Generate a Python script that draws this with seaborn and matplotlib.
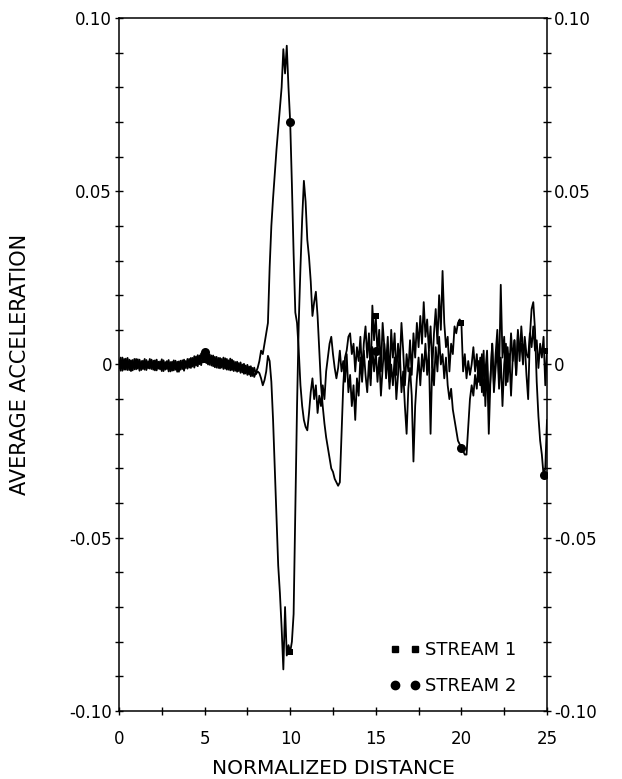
import numpy as np
import seaborn as sns
import matplotlib
matplotlib.use("Agg")
import matplotlib.pyplot as plt
from matplotlib.lines import Line2D
from matplotlib.ticker import MultipleLocator

# average acceleration, in thousandths, sampled every 0.1 of normalized distance
stream1_milli = [
    0, 2.0, -1.8, 1.6, -1.5, 1.9, -1.6, 1.2, -1.7, 1.6,
    -1.4, 1.5, -1.8, 1.0, -1.3, 1.6, -1.6, 0.9, -1.2, 1.4,
    -1.5, 1.2, -1.7, 0.8, -1.4, 1.5, -1.9, 0.7, -1.3, 1.3,
    -2.0, 0.8, -1.7, 1.1, -2.1, 0.9, -1.5, 1.2, -1.8, 1.0,
    -1.2, 1.6, -1.0, 1.9, -0.9, 2.3, -0.5, 2.6, -0.2, 3.0,
    1.2, 3.3, 0.0, 2.9, -0.3, 2.6, -0.8, 2.2, -1.0, 1.9,
    -0.9, 2.0, -1.2, 1.6, -1.5, 1.7, -1.6, 1.0, -1.8, 0.8,
    -1.9, 0.6, -2.3, 0.2, -2.6, -0.1, -2.9, -0.5, -3.3, -0.9,
    -2.8, -2.0, -2.5, -4.0, -6.0, -4.5, -2.0, 2.5, 1.0, -5.0,
    -16, -30, -44, -58, -66, -76, -88, -70, -84, -81,
    -83, -80, -72, -42, -12, 12, 28, 42, 53, 47,
    36, 31, 24, 14, 18, 21, 14, 4, -6, -12,
    -17, -21, -24, -27, -30, -31, -33, -34, -35, -34,
    -20, -6, 2, 4, 8, 9, 3, 6, -2, 5,
    1, 8, -3, 6, 11, 2, 9, -4, 17, 7,
    14, 3, 10, -2, 12, 5, 0, 8, -5, 10,
    2, 9, -3, 6, 0, 12, 4, -6, 3, -2,
    7, -3, 9, 2, 12, 5, 14, 6, 18, 8,
    13, 4, 11, -1, 9, 16, 6, 20, 10, 27,
    12, 5, 8, -2, 6, 3, 11, 9, 12, 13,
    12, -2, 3, -4, 1, -3, 0, 5, -2, 3,
    -5, 2, -8, 4, -12, 1, -20, -4, 6, -6,
    3, 10, -4, 23, 2, 8, -6, 5, -2, 9,
    1, 7, -3, 10, 4, 6, 0, 8, 3, 2,
    9, 5, 11, 4, 7, -1, 6, 2, 8, -6,
    4,
]

stream2_milli = [
    0, -1.8, 2.0, -1.5, 1.7, -1.6, 1.4, -1.9, 1.3, -1.4,
    1.6, -1.2, 1.4, -1.6, 1.1, -1.5, 1.3, -1.1, 1.6, -1.3,
    1.1, -1.7, 1.4, -1.2, 0.9, -1.9, 1.2, -1.5, 1.0, -2.0,
    0.7, -1.8, 1.2, -1.5, 0.8, -2.1, 1.1, -1.3, 1.4, -1.0,
    1.6, -0.9, 1.9, -0.6, 2.4, -0.3, 2.7, 0.1, 3.2, 0.6,
    3.5, 0.4, 3.0, -0.1, 2.6, -0.5, 2.2, -0.9, 1.9, -1.1,
    1.6, -1.3, 1.8, -1.5, 1.2, -1.7, 1.4, -1.9, 0.7, -2.1,
    0.4, -2.4, 0.0, -2.7, -0.3, -3.0, -0.6, -3.4, -1.0, -3.6,
    -2.2, -1.0, 1.0, 4.0, 3.0, 6.0, 9, 12, 28, 40,
    48, 55, 62, 68, 74, 80, 91, 84, 92, 80,
    70, 52, 32, 15, 12, 4, -6, -12, -16, -18,
    -19, -14, -8, -4, -10, -6, -14, -9, -12, -6,
    -10, -2, 2, 6, 8, 3, -1, -4, -1, 4,
    -2, 1, -5, 3, -8, -3, -12, -6, -16, -4,
    -9, 2, -5, 4, -3, -8, 1, -6, 5, -2,
    4, -5, 2, -9, -1, 6, -4, 3, -7, 0,
    -6, 2, -10, -3, 4, -8, -2, -12, -20, -7,
    -1, -9, -28, -12, -4, 2, -6, 3, -2, 6,
    -3, 4, -20, 1, -6, 5, -2, 8, 0, 3,
    -4, 2, -6, -10, -7, -13, -16, -19, -22, -23,
    -24, -25, -26, -26, -18, -10, -6, -9, -3, -7,
    1, -6, 3, -9, -2, 4, -11, -4, 6, -8,
    -1, 5, -7, 2, -12, 0, 6, -5, 3, -9,
    2, 7, -3, 9, 1, 11, 4, 6, -3, -10,
    8, 16, 18, 10, -5, -15, -22, -26, -32, -30,
    -16,
]

stream1_marks = [0, 50, 100, 150, 200, 250]
stream2_marks = [0, 50, 100, 150, 200, 248]

x_ticks = [0, 5, 10, 15, 20, 25]
y_ticks = [-0.10, -0.05, 0, 0.05, 0.10]
y_tick_labels = ["-0.10", "-0.05", "0", "0.05", "0.10"]
legend_labels = ["STREAM 1", "STREAM 2"]

stream1 = np.array(stream1_milli) / 1000
stream2 = np.array(stream2_milli) / 1000
distance = np.linspace(0, 25, len(stream1))

sns.set_style("ticks")
plt.rcParams["font.family"] = ["DejaVu Sans"]
plt.rcParams["text.color"] = "black"
plt.rcParams["xtick.labelcolor"] = "black"
plt.rcParams["ytick.labelcolor"] = "black"
plt.rcParams["axes.labelcolor"] = "black"

fig = plt.figure(figsize=(6.22, 7.79), dpi=100)
ax = fig.add_axes([0.1913, 0.0873, 0.6881, 0.8896])

sns.lineplot(x=distance, y=stream1, ax=ax, color="black", linewidth=1.3,
             estimator=None, sort=False, marker="s", markersize=5,
             markeredgewidth=0, markevery=stream1_marks)
sns.lineplot(x=distance, y=stream2, ax=ax, color="black", linewidth=1.3,
             estimator=None, sort=False, marker="o", markersize=6.5,
             markeredgewidth=0, markevery=stream2_marks)

ax.set_xlim(0, 25)
ax.set_ylim(-0.10, 0.10)
ax.set_xticks(x_ticks)
ax.set_xticklabels([str(t) for t in x_ticks])
ax.set_yticks(y_ticks)
ax.set_yticklabels(y_tick_labels)
ax.xaxis.set_minor_locator(MultipleLocator(2.5))
ax.yaxis.set_minor_locator(MultipleLocator(0.01))

for side in ax.spines.values():
    side.set_visible(True)
    side.set_linewidth(1.1)
    side.set_color("black")

ax.tick_params(which="both", direction="inout", length=6, width=1.0,
               color="black", right=True, top=False)
ax.tick_params(axis="y", which="both", labelright=True, labelsize=12, pad=2)
ax.tick_params(axis="x", labelsize=12, pad=11)

ax.set_xlabel("NORMALIZED DISTANCE", fontsize=14.5)
ax.set_ylabel("AVERAGE ACCELERATION", fontsize=15)
ax.xaxis.set_label_coords(0.5, -0.069)
ax.yaxis.set_label_coords(-0.208, 0.5)

handles = [
    Line2D([], [], color="black", linestyle="none", marker="s", markersize=5),
    Line2D([], [], color="black", linestyle="none", marker="o", markersize=6),
]
ax.legend(handles, legend_labels, numpoints=2, frameon=False, fontsize=13,
          loc="lower left", bbox_to_anchor=(0.632, 0.023), borderpad=0,
          borderaxespad=0, handlelength=1.71, handletextpad=0.25,
          labelspacing=0.98)

fig.savefig("out.png", dpi=100)
